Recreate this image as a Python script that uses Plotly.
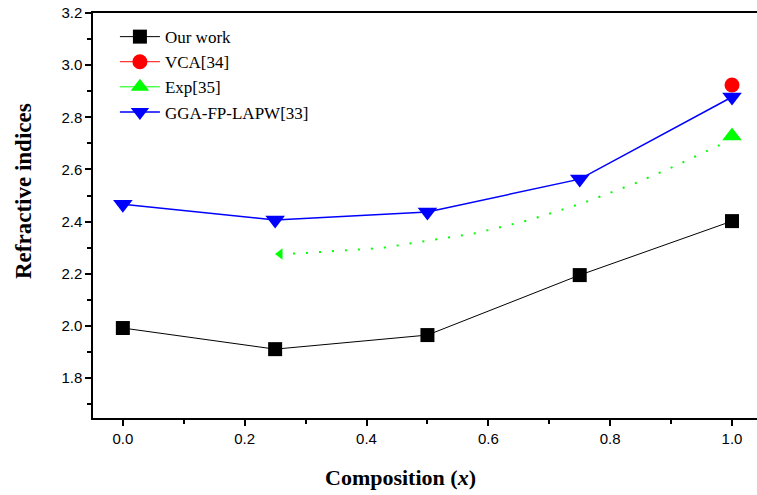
import plotly.graph_objects as go

# Data
comp = [0.0, 0.25, 0.5, 0.75, 1.0]
our_work = [1.992, 1.911, 1.965, 2.195, 2.402]
gga = [2.467, 2.406, 2.437, 2.563, 2.878]
vca_x = [1.0]
vca_y = [2.924]
exp_x = [1.0]
exp_y = [2.728]
# hand-drawn dotted trend (arrow pointing to the left)
trend_x = [0.258, 0.294, 0.425, 0.580, 0.667, 0.755, 0.842, 0.910, 0.99]
trend_y = [2.276, 2.279, 2.299, 2.356, 2.406, 2.471, 2.548, 2.617, 2.705]

serif = "Liberation Serif, Times New Roman, serif"
sans = "Liberation Sans, Arial, sans-serif"

fig = go.Figure()

fig.add_trace(go.Scatter(
    x=trend_x, y=trend_y, mode="lines", showlegend=False,
    line=dict(color="#00ff00", width=2, dash="2px,11px"), hoverinfo="skip"))
fig.add_trace(go.Scatter(
    x=trend_x[:1], y=trend_y[:1], mode="markers", showlegend=False,
    marker=dict(symbol="triangle-left", size=10, color="#00ff00"), hoverinfo="skip"))

fig.add_trace(go.Scatter(
    x=comp, y=our_work, name="Our work", mode="lines+markers", legendgroup="a",
    line=dict(color="black", width=1),
    marker=dict(symbol="square", size=14, color="black")))
fig.add_trace(go.Scatter(
    x=vca_x, y=vca_y, name="VCA[34]", mode="lines+markers", legendgroup="b",
    line=dict(color="red", width=1),
    marker=dict(symbol="circle", size=15, color="red")))
fig.add_trace(go.Scatter(
    x=exp_x, y=exp_y, name="Exp[35]", mode="lines+markers", legendgroup="c",
    line=dict(color="#00ff00", width=1),
    marker=dict(symbol="triangle-up", size=17, color="#00ff00")))
fig.add_trace(go.Scatter(
    x=comp, y=gga, name="GGA-FP-LAPW[33]", mode="lines+markers", legendgroup="d",
    line=dict(color="blue", width=1.5),
    marker=dict(symbol="triangle-down", size=17, color="blue")))

fig.update_layout(
    width=757, height=495,
    margin=dict(l=93, r=0, t=13, b=77),
    paper_bgcolor="white", plot_bgcolor="white",
    showlegend=True,
    legend=dict(x=0.033, y=0.985, xanchor="left", yanchor="top",
                font=dict(family=serif, size=17, color="black"),
                bgcolor="rgba(0,0,0,0)", tracegroupgap=0, itemwidth=40),
    xaxis=dict(
        range=[-0.049, 1.041], tickvals=[0.0, 0.2, 0.4, 0.6, 0.8, 1.0],
        ticktext=["0.0", "0.2", "0.4", "0.6", "0.8", "1.0"],
        showgrid=False, zeroline=False, showline=True, linecolor="black", linewidth=1.5,
        mirror=True, ticks="outside", ticklen=6, tickwidth=1.5, tickcolor="black",
        minor=dict(dtick=0.1, tick0=0, ticks="outside", ticklen=4, tickwidth=1.5, tickcolor="black"),
        tickfont=dict(family=sans, size=15, color="black")),
    yaxis=dict(
        range=[1.647, 3.2], tickvals=[1.8, 2.0, 2.2, 2.4, 2.6, 2.8, 3.0, 3.2],
        ticktext=["1.8", "2.0", "2.2", "2.4", "2.6", "2.8", "3.0", "3.2"],
        showgrid=False, zeroline=False, showline=True, linecolor="black", linewidth=1.5,
        ticks="outside", ticklen=6, tickwidth=1.5, tickcolor="black",
        minor=dict(dtick=0.1, tick0=1.7, ticks="outside", ticklen=4, tickwidth=1.5, tickcolor="black"),
        tickfont=dict(family=sans, size=15, color="black")),
    annotations=[
        dict(text="<b>Composition (<i>x</i>)</b>", xref="paper", yref="paper",
             x=(400 - 93) / 664, y=-(477 - 418) / 405, xanchor="center", yanchor="middle",
             showarrow=False, font=dict(family=serif, size=22, color="black")),
        dict(text="<b>Refractive indices</b>", xref="paper", yref="paper",
             x=-(93 - 23) / 664, y=(418 - 191) / 405, xanchor="center", yanchor="middle",
             textangle=-90, showarrow=False, font=dict(family=serif, size=23, color="black")),
    ],
)

fig.write_html("out.html")
